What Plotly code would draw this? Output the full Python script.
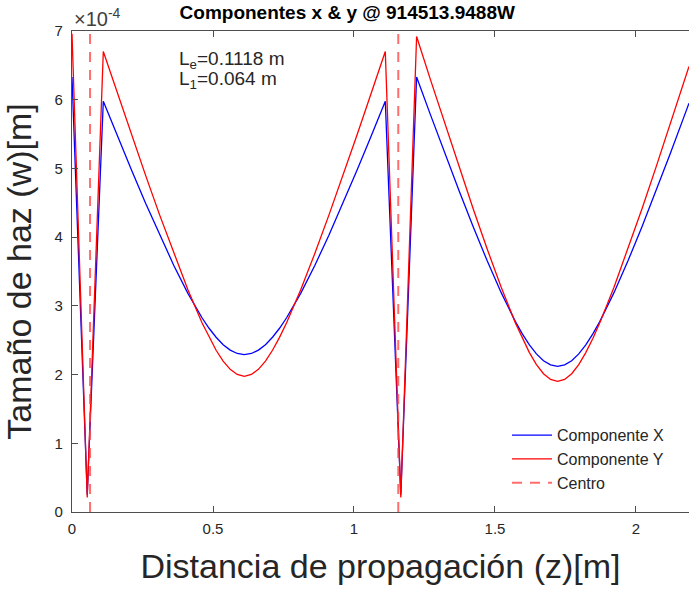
import plotly.graph_objects as go

# Propagation distance z [m]
z = [0.0, 0.054,
     0.111, 0.161, 0.211, 0.261, 0.311, 0.361, 0.411, 0.461, 0.486, 0.511, 0.536, 0.561, 0.586,
     0.611, 0.636, 0.661, 0.686, 0.711, 0.736, 0.761, 0.811, 0.861, 0.911, 0.961, 1.011, 1.061, 1.111,
     1.166,
     1.222, 1.272, 1.322, 1.372, 1.422, 1.472, 1.522, 1.572, 1.597, 1.622, 1.647, 1.672, 1.697,
     1.722, 1.747, 1.772, 1.797, 1.822, 1.847, 1.872, 1.922, 1.972, 2.022, 2.072, 2.122, 2.172, 2.188]

# Beam size, x component (units of 1e-4 m)
w_x = [6.33, 0.25,
       5.979, 5.473, 4.977, 4.494, 4.028, 3.588, 3.182, 2.827, 2.674, 2.543, 2.435, 2.356, 2.307,
       2.290, 2.307, 2.356, 2.435, 2.543, 2.674, 2.827, 3.182, 3.588, 4.028, 4.494, 4.977, 5.473, 5.979,
       0.25,
       6.331, 5.772, 5.222, 4.683, 4.160, 3.659, 3.192, 2.774, 2.592, 2.433, 2.301, 2.202, 2.141,
       2.120, 2.141, 2.202, 2.301, 2.433, 2.592, 2.774, 3.192, 3.659, 4.160, 4.683, 5.222, 5.772, 5.950]

# Beam size, y component (units of 1e-4 m)
w_y = [6.96, 0.21,
       6.702, 6.093, 5.491, 4.899, 4.320, 3.762, 3.235, 2.755, 2.542, 2.354, 2.196, 2.076, 2.001,
       1.975, 2.001, 2.076, 2.196, 2.354, 2.542, 2.755, 3.235, 3.762, 4.320, 4.899, 5.491, 6.093, 6.702,
       0.21,
       6.919, 6.282, 5.651, 5.030, 4.421, 3.831, 3.270, 2.756, 2.525, 2.320, 2.146, 2.013, 1.929,
       1.900, 1.929, 2.013, 2.146, 2.320, 2.525, 2.756, 3.270, 3.831, 4.421, 5.030, 5.651, 6.282, 6.485]

# Centre positions [m]
centro = [0.064, 1.157]

y_ticks = [0, 1, 2, 3, 4, 5, 6, 7]
x_ticks = [0, 0.5, 1, 1.5, 2]
x_range = [0, 2.188]

cx, cy = [], []
for c in centro:
    cx += [c, c, None]
    cy += [y_ticks[0], y_ticks[-1], None]

FONT = "Liberation Sans, Arial, sans-serif"

fig = go.Figure()
fig.add_trace(go.Scatter(x=z, y=w_x, mode="lines", name="Componente X",
                         line=dict(color="#0000FF", width=1.3)))
fig.add_trace(go.Scatter(x=z, y=w_y, mode="lines", name="Componente Y",
                         line=dict(color="#FF0000", width=1.3)))
fig.add_trace(go.Scatter(x=cx, y=cy, mode="lines", name="Centro",
                         line=dict(color="rgba(255,60,60,0.75)", width=2, dash="10px,8px")))

axis_col = "#4d4d4d"
tick_font = dict(family=FONT, size=15, color="#262626")

fig.update_layout(
    width=689, height=594,
    margin=dict(l=72, r=0, t=31, b=82),
    paper_bgcolor="white", plot_bgcolor="white",
    showlegend=True,
    legend=dict(x=0.705, y=0.195, xanchor="left", yanchor="top",
                bgcolor="rgba(255,255,255,0)", borderwidth=0,
                font=dict(family=FONT, size=16, color="#262626"),
                tracegroupgap=0, itemwidth=40),
    title=dict(text="<b>Componentes x & y @ 914513.9488W</b>",
               x=0.504, xanchor="center", y=0.99, yanchor="top",
               font=dict(family=FONT, size=19, color="#000000")),
    xaxis=dict(range=x_range, tickvals=x_ticks, ticktext=["0", "0.5", "1", "1.5", "2"],
               showgrid=False, zeroline=False, showline=True, linecolor=axis_col, linewidth=1.2,
               ticks="inside", ticklen=6, tickcolor=axis_col, mirror="ticks",
               tickfont=tick_font, ticklabelstandoff=3,
               title=dict(text="Distancia de propagación (z)[m]", standoff=18,
                          font=dict(family=FONT, size=34, color="#262626"))),
    yaxis=dict(range=[y_ticks[0], y_ticks[-1]], tickvals=y_ticks, ticktext=[str(t) for t in y_ticks],
               showgrid=False, zeroline=False, showline=True, linecolor=axis_col, linewidth=1.2,
               ticks="inside", ticklen=6, tickcolor=axis_col,
               tickfont=tick_font, ticklabelstandoff=5,
               title=dict(text="Tamaño de haz (w)[m]", standoff=12,
                          font=dict(family=FONT, size=34, color="#262626"))),
)

fig.add_annotation(x=0, y=1, xref="paper", yref="paper", xanchor="left", yanchor="bottom",
                   text="×10<sup>-4</sup>", showarrow=False, yshift=-1,
                   font=dict(family=FONT, size=20, color="#404040"))
fig.add_annotation(x=0.372, y=6.58, xref="x", yref="y", xanchor="left", yanchor="middle",
                   text="L<sub>e</sub>=0.1118 m", showarrow=False,
                   font=dict(family=FONT, size=19, color="#262626"))
fig.add_annotation(x=0.372, y=6.28, xref="x", yref="y", xanchor="left", yanchor="middle",
                   text="L<sub>1</sub>=0.064 m", showarrow=False,
                   font=dict(family=FONT, size=19, color="#262626"))

fig.write_html("out.html")
